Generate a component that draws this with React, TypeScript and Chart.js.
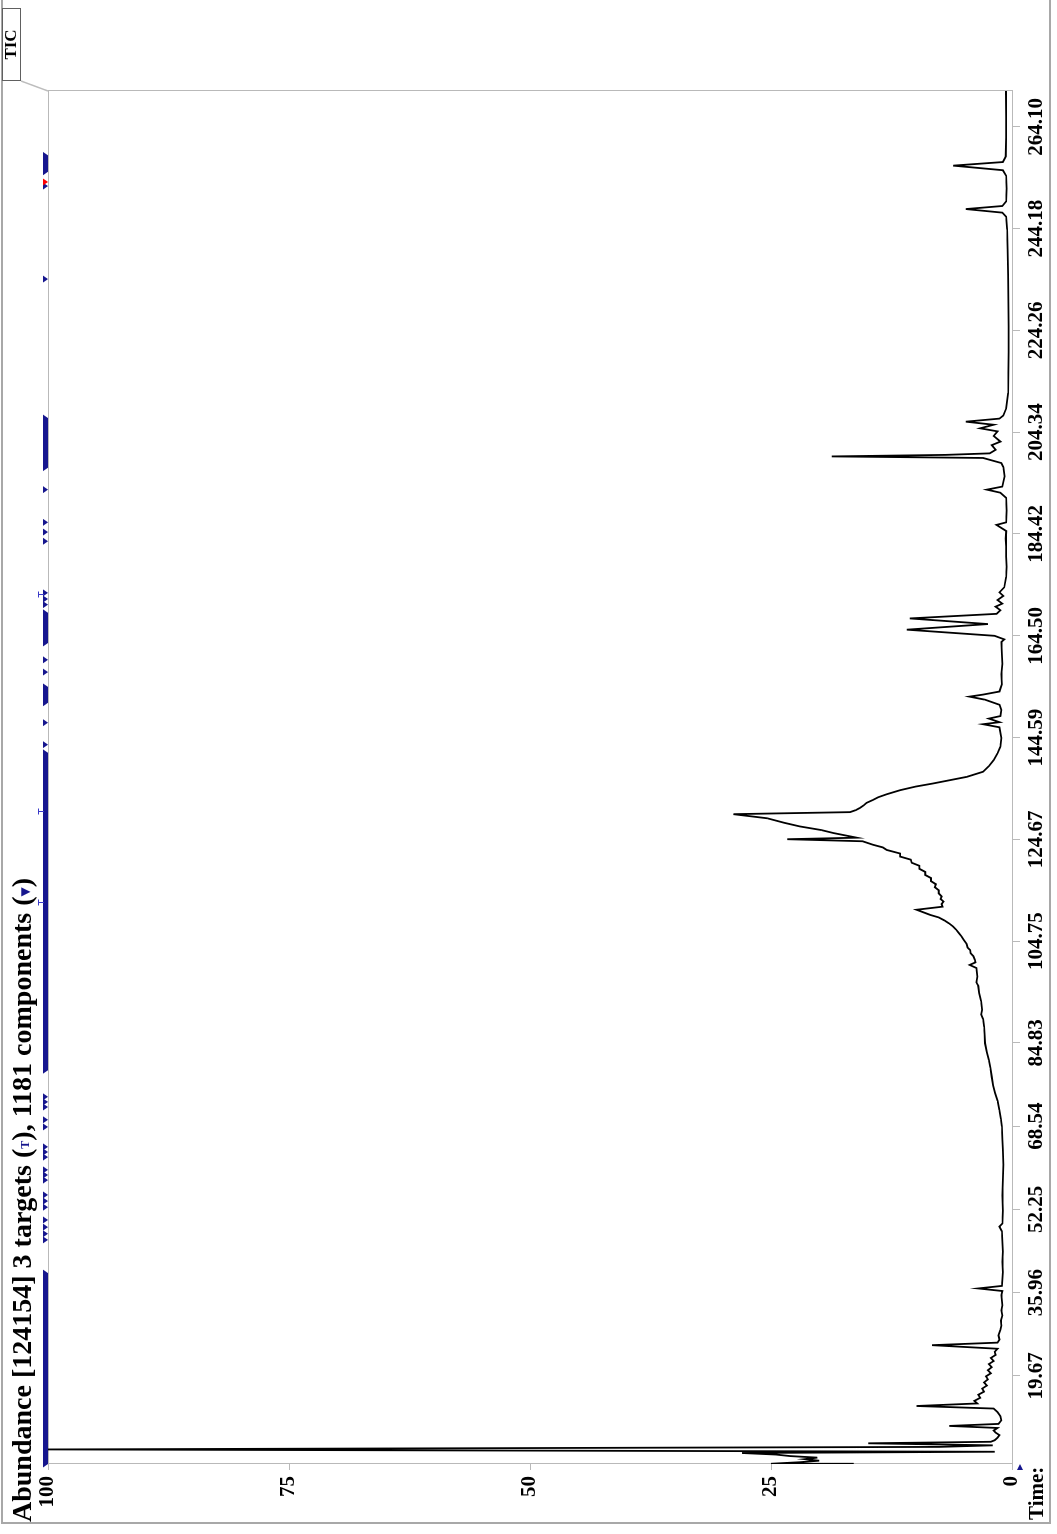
import React, { useEffect, useRef } from "react";
import { Chart, registerables } from "chart.js";

Chart.register(...registerables);

// ---- data ----
const timeTicks = [19.67, 35.96, 52.25, 68.54, 84.83, 104.75, 124.67, 144.59, 164.5, 184.42, 204.34, 224.26, 244.18, 264.1];
const abundanceTicks = [0, 25, 50, 75, 100];
const timeMin = 2.45;
const timeMax = 271.1;

const ticTime = [
  2.45, 2.5, 2.8, 3.1, 3.4, 3.7, 4.0, 4.3, 4.6, 4.85, 5.3, 5.8, 6.1, 6.5, 6.8, 7.1, 7.6, 8.1, 8.6, 9.0, 9.5, 9.9, 10.3,
  11.0, 11.8, 12.6, 13.3, 13.8, 14.3, 14.8, 15.4, 16.0, 16.6, 17.2, 17.8, 18.4, 19.0, 19.6, 20.2, 20.8, 21.4, 22.0, 22.6,
  23.2, 23.8, 24.4, 25.0, 25.7, 26.2, 26.8, 27.6, 28.7, 29.5, 30.5, 31.5, 32.5, 33.5, 34.5, 35.5, 36.3, 36.8, 37.3, 38.5,
  40, 42, 44, 46, 48, 48.9, 49.5, 52, 55, 58, 61, 64, 66, 68.5, 70, 71.7, 73.5, 75, 76.5, 78.2, 80, 81.5, 83, 84.8, 86.5,
  88, 89.5, 90.4, 91.3, 93, 94.6, 96, 96.7, 97.8, 99.5, 100.1, 100.6, 101.1, 101.8, 102.4, 103.0, 103.5, 104.2, 105.0,
  105.6, 106.3, 107.0, 107.6, 108.2, 108.8, 109.4, 109.9, 110.9, 111.5, 112.0, 112.5, 113.0, 113.5, 114.1, 114.7, 115.3,
  115.9, 116.5, 117.1, 117.7, 118.3, 118.9, 119.5, 120.1, 120.7, 121.3, 121.9, 122.6, 123.1, 123.6, 124.3, 124.7, 125.0,
  125.9, 126.5, 127.2, 127.9, 128.8, 129.6, 130.0, 130.4, 130.8, 131.3, 131.8, 132.4, 132.9, 133.5, 134.3, 135.0, 135.6,
  136.9, 137.9, 139.0, 140.2, 141.5, 142.8, 144.5, 146.6, 147.2, 147.6, 148.3, 148.8, 150.0,
  151.0, 152.0, 152.6, 153.0, 153.6, 155, 157, 159, 161, 163.3, 163.8, 164.5, 165.7, 166.8, 167.9, 168.8, 169.5, 170.2,
  170.8, 171.5, 172.3, 173, 174, 176, 178, 180, 182, 183.5, 185, 186.2, 186.7, 189, 191.5, 192.5, 193.1, 193.7, 195.7,
  197.5, 198.3, 199.3, 199.6, 199.9, 200.2, 200.9, 201.8, 202.5, 203.6, 204.5, 205.1, 205.8, 206.4, 207.0, 207.6, 209,
  212, 216, 220, 225, 230, 235, 240, 244, 246.5, 247.3, 248.0, 248.6, 249.5, 252, 254.5, 255.6, 256.5, 257.2, 258.3, 262,
  266, 271.1,
];
const ticAbundance = [
  16.5, 25.0, 22.0, 20.0, 21.5, 20.2, 23.0, 24.5, 28.0, 1.8, 100, 7.5, 2.0, 14.9, 2.2, 1.8, 1.5, 1.3, 1.7, 1.9, 1.5, 6.5, 1.4,
  1.1, 1.2, 1.5, 1.9, 9.9, 3.6, 3.9, 3.3, 3.5, 2.9, 3.1, 2.6, 2.9, 2.5, 2.7, 2.2, 2.5, 2.1, 2.4, 1.9,
  2.2, 1.7, 1.8, 1.5, 8.3, 1.5, 1.3, 1.4, 1.2, 1.1, 1.15, 1.0, 1.1, 1.0, 1.05, 1.1, 1.0, 3.5, 1.05, 1.0,
  0.95, 1.0, 0.95, 1.0, 1.05, 1.3, 1.0, 0.95, 1.0, 0.95, 0.9, 0.95, 1.0, 1.05, 1.15, 1.3, 1.5, 1.75, 1.95, 2.1, 2.25, 2.4, 2.6, 2.8, 2.85,
  2.9, 3.0, 3.2, 3.1, 3.2, 3.4, 3.5, 3.7, 3.6, 3.7, 4.4, 3.8, 3.85, 4.0, 4.3, 4.35, 4.6, 4.7, 5.0,
  5.2, 5.5, 5.8, 6.1, 6.5, 7.0, 7.6, 8.5, 9.9, 7.2, 7.3, 7.1, 7.4, 7.3, 7.6, 7.6, 8.0,
  7.9, 8.4, 8.4, 9.0, 9.0, 9.6, 9.6, 10.4, 10.5, 11.6, 11.6, 13.0, 13.4, 14.4, 15.5, 23.3, 16.1,
  18.5, 19.8, 22.0, 23.6, 25.4, 28.9, 16.8, 16.2, 15.8, 15.4, 15.1, 14.4, 13.9, 13.0, 11.6, 10.0, 8.2,
  4.7, 3.0, 2.4, 1.9, 1.5, 1.2, 1.1, 1.3, 3.0, 1.3, 2.4, 1.2, 1.1,
  1.3, 2.8, 4.4, 3.0, 1.3, 1.05, 1.1, 1.0, 1.05, 1.1, 0.8, 1.8, 10.9, 2.5, 10.6, 1.6, 1.2, 1.7,
  1.0, 1.5, 0.9, 1.3, 0.8, 0.6, 0.55, 0.6, 0.6, 0.65, 0.6, 1.6, 0.6, 0.55, 0.6, 1.2, 2.6, 1.0, 0.76,
  0.9, 1.1, 3.0, 18.7, 6.9, 2.3, 1.7, 2.1, 1.2, 1.9, 1.5, 3.3, 1.9, 4.8, 1.3, 0.9, 0.6,
  0.4, 0.38, 0.36, 0.35, 0.37, 0.4, 0.45, 0.5, 0.6, 1.0, 4.8, 1.0, 0.6, 0.55, 0.6, 0.95, 6.1, 0.95, 0.65, 0.6,
  0.6, 0.62,
];

// component markers (dense runs given as start/end times, single markers as times)
const componentRunStarts = [2.45, 79.5, 151.4, 163.1, 197.4, 255.3];
const componentRunEnds = [39.8, 141.6, 154.5, 169.0, 207.1, 258.5];
const componentTimes = [
  46.3, 47.5, 48.8, 50.2, 52.7, 53.9, 55.1, 58.0, 59.0, 60.0, 62.5, 63.5, 64.5, 68.4, 69.8, 72.3, 73.3, 74.3, 143.2,
  147.5, 157.4, 159.8, 170.6, 171.7, 172.9, 183.0, 184.8, 186.7, 193.1, 234.3, 252.5,
];
const selectedComponentTimes = [253.3];
const targetTimes = [112.2, 130.0, 172.5];

const titleText = "Abundance [124154] 3 targets (";
const titleMid = "), 1181 components (";
const NAVY = "#16168e";

const W = 1534;
const H = 1057;
const FONT = "'Liberation Serif', 'Times New Roman', serif";

const decorPlugin = {
  id: "decor",
  beforeDatasetsDraw(chart: any) {
    const { ctx, chartArea } = chart;
    ctx.save();
    ctx.strokeStyle = "#b9b9b9";
    ctx.lineWidth = 1;
    ctx.strokeRect(chartArea.left + 0.5, chartArea.top + 0.5, chartArea.right - chartArea.left, chartArea.bottom - chartArea.top);
    ctx.restore();
  },
  afterDraw(chart: any) {
    const { ctx, chartArea, scales } = chart;
    const xs = scales.x;
    const top = chartArea.top;
    ctx.save();
    // outer frame
    ctx.strokeStyle = "#a8a8a8";
    ctx.lineWidth = 2;
    ctx.beginPath();
    ctx.moveTo(W, 2);
    ctx.lineTo(11, 2);
    ctx.lineTo(11, 1050);
    ctx.lineTo(W, 1050);
    ctx.stroke();
    // slanted separator from TIC box to plot corner
    ctx.strokeStyle = "#bdbdbd";
    ctx.lineWidth = 1.5;
    ctx.beginPath();
    ctx.moveTo(1453, 21);
    ctx.lineTo(chartArea.right, chartArea.top);
    ctx.stroke();

    // component runs
    ctx.fillStyle = NAVY;
    for (let i = 0; i < componentRunStarts.length; i++) {
      const a = xs.getPixelForValue(componentRunStarts[i]);
      const b = xs.getPixelForValue(componentRunEnds[i]);
      ctx.beginPath();
      ctx.moveTo(a - 3.5, top - 5);
      ctx.lineTo(b + 3.5, top - 5);
      ctx.lineTo(b, top);
      ctx.lineTo(a, top);
      ctx.closePath();
      ctx.fill();
    }
    const tri = (t: number, color: string) => {
      const x = xs.getPixelForValue(t);
      ctx.fillStyle = color;
      ctx.beginPath();
      ctx.moveTo(x - 3.5, top - 5);
      ctx.lineTo(x + 3.5, top - 5);
      ctx.lineTo(x, top);
      ctx.closePath();
      ctx.fill();
    };
    componentTimes.forEach((t) => tri(t, NAVY));
    selectedComponentTimes.forEach((t) => tri(t, "#ff0000"));
    // targets
    ctx.strokeStyle = "#3a3ac8";
    ctx.lineWidth = 1;
    targetTimes.forEach((t) => {
      const x = Math.round(xs.getPixelForValue(t)) + 0.5;
      ctx.beginPath();
      ctx.moveTo(x - 3, top - 9.5);
      ctx.lineTo(x + 3, top - 9.5);
      ctx.moveTo(x, top - 9.5);
      ctx.lineTo(x, top - 4);
      ctx.stroke();
    });
    // small time-origin marker
    ctx.fillStyle = NAVY;
    const bx = chartArea.left;
    const by = chartArea.bottom + 8;
    ctx.beginPath();
    ctx.moveTo(bx, by);
    ctx.lineTo(bx - 6, by - 3);
    ctx.lineTo(bx - 6, by + 3);
    ctx.closePath();
    ctx.fill();
    ctx.restore();
  },
};

export default function App() {
  const ref = useRef<HTMLCanvasElement | null>(null);
  useEffect(() => {
    if (!ref.current) return;
    const points = ticTime.map((t, i) => ({ x: t, y: ticAbundance[i] }));
    const chart = new Chart(ref.current, {
      type: "line",
      data: {
        datasets: [
          {
            data: points,
            borderColor: "#000000",
            borderWidth: 1.8,
            pointRadius: 0,
            tension: 0,
            fill: false,
          },
        ],
      },
      options: {
        animation: false,
        responsive: false,
        devicePixelRatio: 1,
        layout: { padding: { left: 0, top: 48, right: 91, bottom: 0 } },
        plugins: { legend: { display: false }, tooltip: { enabled: false }, title: { display: false } },
        scales: {
          x: {
            type: "linear",
            min: timeMin,
            max: timeMax,
            afterBuildTicks: (scale: any) => {
              scale.ticks = timeTicks.map((v) => ({ value: v }));
            },
            afterFit: (scale: any) => {
              scale.height = 45;
            },
            grid: { drawOnChartArea: false, drawTicks: true, tickLength: 8, color: "#b9b9b9" },
            border: { display: false },
            ticks: {
              autoSkip: false,
              maxRotation: 0,
              padding: 4,
              color: "#000",
              font: { family: FONT, size: 21, weight: "bold" },
              callback: (v: any) => Number(v).toFixed(2),
            },
          },
          y: {
            type: "linear",
            min: 0,
            max: 100,
            afterBuildTicks: (scale: any) => {
              scale.ticks = abundanceTicks.map((v) => ({ value: v }));
            },
            afterFit: (scale: any) => {
              scale.width = 70;
            },
            grid: { drawOnChartArea: false, drawTicks: true, tickLength: 6, color: "#b9b9b9" },
            border: { display: false },
            ticks: {
              padding: 6,
              color: "#000",
              font: { family: FONT, size: 21, weight: "bold" },
            },
          },
        },
      },
      plugins: [decorPlugin],
    });
    return () => chart.destroy();
  }, []);

  return (
    <div style={{ position: "absolute", left: 0, top: 0, width: 1057, height: 1534, overflow: "hidden", background: "#fff" }}>
      <div
        style={{
          position: "absolute",
          left: 0,
          top: 0,
          width: W,
          height: H,
          transformOrigin: "0 0",
          transform: `translateY(${W}px) rotate(-90deg)`,
        }}
      >
        <canvas ref={ref} width={W} height={H} style={{ display: "block", width: W, height: H }} />
        <div
          style={{
            position: "absolute",
            left: 12,
            top: 8,
            font: `bold 28px ${FONT}`,
            lineHeight: "28px",
            whiteSpace: "nowrap",
            color: "#000",
          }}
        >
          {titleText}
          <span style={{ color: NAVY, fontSize: 12, verticalAlign: "middle" }}>T</span>
          {titleMid}
          <span style={{ color: NAVY, fontSize: 12, verticalAlign: "middle", fontFamily: "'DejaVu Sans'" }}>▼</span>)
        </div>
        <div
          style={{
            position: "absolute",
            left: 14,
            top: 1026,
            font: `bold 21px ${FONT}`,
            lineHeight: "21px",
            whiteSpace: "nowrap",
          }}
        >
          Time:
        </div>
        <div
          style={{
            position: "absolute",
            left: 1453,
            top: 2,
            width: 73,
            height: 19,
            boxSizing: "border-box",
            border: "1.5px solid #606060",
            font: `bold 17px ${FONT}`,
            lineHeight: "16px",
            textAlign: "center",
            background: "#fff",
          }}
        >
          TIC
        </div>
      </div>
    </div>
  );
}
